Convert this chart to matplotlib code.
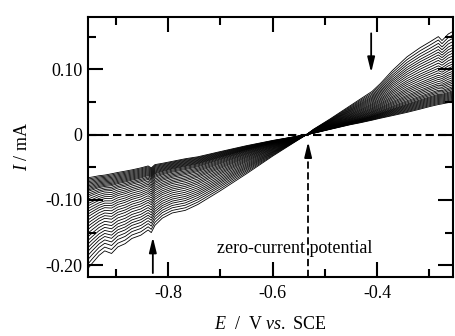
import numpy as np
import matplotlib
matplotlib.use("Agg")
import matplotlib.pyplot as plt
from matplotlib.ticker import FixedLocator

plt.rcParams['font.family'] = 'Liberation Serif'
plt.rcParams['mathtext.fontset'] = 'custom'
plt.rcParams['mathtext.rm'] = 'Liberation Serif'
plt.rcParams['mathtext.it'] = 'Liberation Serif:italic'
plt.rcParams['axes.unicode_minus'] = False

# ---------- data ----------
# potential grid (V vs. SCE)
E_grid = [-0.953, -0.945, -0.932, -0.921, -0.908, -0.896, -0.882, -0.869, -0.852,
          -0.838, -0.832, -0.825, -0.811, -0.792, -0.767, -0.743, -0.70, -0.65,
          -0.60, -0.535, -0.522, -0.49, -0.452, -0.433, -0.41, -0.394, -0.371,
          -0.343, -0.318, -0.299, -0.283, -0.276, -0.264, -0.255]

# first (steepest) sweep, mA
I_first = [-0.205, -0.197, -0.185, -0.178, -0.182, -0.172, -0.167, -0.159, -0.154,
           -0.146, -0.150, -0.139, -0.128, -0.120, -0.116, -0.107, -0.086, -0.060,
           -0.033, 0.0, 0.008, 0.024, 0.044, 0.054, 0.066, 0.078, 0.098,
           0.119, 0.133, 0.142, 0.150, 0.144, 0.154, 0.158]

# last (flattest) sweep, mA
I_last = [-0.066, -0.065, -0.063, -0.062, -0.060, -0.058, -0.056, -0.054, -0.051,
          -0.048, -0.051, -0.046, -0.044, -0.041, -0.037, -0.034, -0.026, -0.017,
          -0.009, 0.0, 0.002, 0.008, 0.015, 0.018, 0.022, 0.025, 0.029,
          0.034, 0.039, 0.043, 0.046, 0.047, 0.049, 0.051]

# relative position of each sweep between last (0) and first (1)
sweep_pos = [1.00, 0.95, 0.90, 0.855, 0.81, 0.77, 0.73, 0.69, 0.65, 0.61, 0.57,
             0.535, 0.50, 0.465, 0.43, 0.40, 0.37, 0.34, 0.31, 0.285, 0.26,
             0.235, 0.21, 0.19, 0.17, 0.15, 0.135, 0.12, 0.105, 0.09, 0.075,
             0.06, 0.045, 0.03, 0.015, 0.0]

E_zero = -0.532          # zero-current potential
x_ticks = [-0.8, -0.6, -0.4]
x_minor = [-0.9, -0.7, -0.5, -0.3]
y_ticks = [0.10, 0.0, -0.10, -0.20]
y_labels = ["0.10", "0", "-0.10", "-0.20"]
y_minor = [0.15, 0.05, -0.05, -0.15]

# ---------- plot ----------
fig = plt.figure(figsize=(4.55, 3.36), dpi=100)
ax = fig.add_axes([0.1934, 0.1756, 0.8022, 0.7738])

E = np.array(E_grid)
lo = np.array(I_last)
hi = np.array(I_first)
for w in sweep_pos:
    ax.plot(E, lo + w * (hi - lo), color="black", lw=0.6)

# zero line and zero-current potential marker
ax.plot([-0.953, -0.255], [0, 0], color="black", lw=1.5, ls=(0, (4, 2)))
ax.plot([E_zero, E_zero], [-0.218, -0.03], color="black", lw=1.3, ls=(0, (4, 2)))
head = "-|>,head_length=0.9,head_width=0.22"
ax.annotate("", xy=(E_zero, -0.011), xytext=(E_zero, -0.03),
            arrowprops=dict(arrowstyle=head, color="black", lw=1.3,
                            shrinkA=0, shrinkB=0))
ax.text(-0.707, -0.182, "zero-current potential", fontsize=13,
        ha="left", va="baseline")

# time arrows
ax.annotate("", xy=(-0.4115, 0.095), xytext=(-0.4115, 0.155),
            arrowprops=dict(arrowstyle=head, color="black", lw=1.3,
                            shrinkA=0, shrinkB=0))
ax.annotate("", xy=(-0.829, -0.157), xytext=(-0.829, -0.212),
            arrowprops=dict(arrowstyle=head, color="black", lw=1.3,
                            shrinkA=0, shrinkB=0))

ax.set_xlim(-0.953, -0.255)
ax.set_ylim(-0.218, 0.18)

ax.xaxis.set_major_locator(FixedLocator(x_ticks))
ax.xaxis.set_minor_locator(FixedLocator(x_minor))
ax.set_xticklabels([f"{v:.1f}" for v in x_ticks])
ax.yaxis.set_major_locator(FixedLocator(y_ticks))
ax.yaxis.set_minor_locator(FixedLocator(y_minor))
ax.set_yticklabels(y_labels)

ax.tick_params(which="both", direction="in", top=True, right=True,
               width=1.5, labelsize=13)
ax.tick_params(which="major", length=11)
ax.tick_params(which="minor", length=5.5)
ax.tick_params(axis="x", pad=6)
ax.tick_params(axis="y", pad=4)
for s in ax.spines.values():
    s.set_linewidth(1.5)

ax.set_xlabel(r"$E$  /  V $vs.$ SCE", fontsize=13, labelpad=10)
ax.set_ylabel(r"$I$ / mA", fontsize=13, labelpad=10)

fig.savefig("out.png", dpi=100)
